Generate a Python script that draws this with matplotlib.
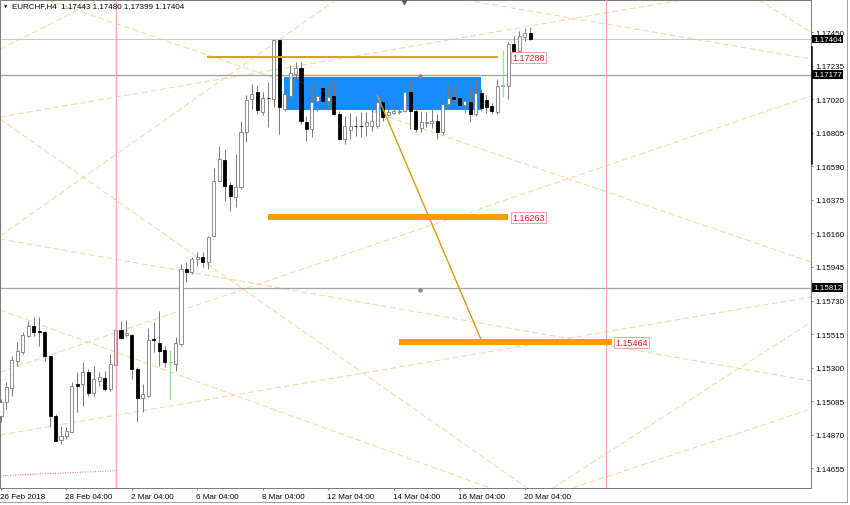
import matplotlib
matplotlib.use('Agg')
import matplotlib.pyplot as plt
import matplotlib.transforms as mtransforms
from matplotlib.patches import Rectangle
import numpy as np

plt.rcParams['font.family'] = ['Liberation Sans', 'DejaVu Sans']

# ---------------- data (EURCHF, H4) ----------------
symbol_title = "EURCHF,H4  1.17443 1.17480 1.17399 1.17404"

opens = [1.14988, 1.15078, 1.15168, 1.15345, 1.15403, 1.15505, 1.15565, 1.15537, 1.15527, 1.15377,
         1.14992, 1.14839, 1.14860, 1.14890, 1.15196, 1.15196, 1.15275, 1.15138, 1.15217, 1.15234,
         1.15164, 1.15318, 1.15544, 1.15510, 1.15510, 1.15292, 1.15106, 1.15120, 1.15482, 1.15458,
         1.15414, 1.15334, 1.15324, 1.15452, 1.15932, 1.15911, 1.15996, 1.16007, 1.15975, 1.16145,
         1.16498, 1.16630, 1.16470, 1.16391, 1.16455, 1.16808, 1.17023, 1.17066, 1.16938, 1.17027,
         1.17023, 1.17397, 1.16957, 1.17040, 1.17181, 1.17219, 1.16876, 1.16827, 1.17010, 1.17089,
         1.17010, 1.17037, 1.16925, 1.16762, 1.16825, 1.16850, 1.16848, 1.16846, 1.16846, 1.16850,
         1.17000, 1.16918, 1.16931, 1.16935, 1.16946, 1.17068, 1.16946, 1.16835, 1.16867, 1.16865,
         1.16882, 1.16808, 1.16986, 1.17036, 1.17025, 1.16984, 1.17000, 1.16925, 1.17059, 1.17016,
         1.16976, 1.16938, 1.17107, 1.17106, 1.17375, 1.17328, 1.17415, 1.17443]
highs = [1.15099, 1.15207, 1.15377, 1.15467, 1.15527, 1.15601, 1.15623, 1.15623, 1.15537, 1.15377,
         1.15003, 1.14928, 1.14918, 1.15207, 1.15271, 1.15335, 1.15292, 1.15313, 1.15271, 1.15281,
         1.15388, 1.15580, 1.15601, 1.15608, 1.15516, 1.15303, 1.15196, 1.15552, 1.15595, 1.15665,
         1.15441, 1.15356, 1.15495, 1.15964, 1.15975, 1.16007, 1.16039, 1.16039, 1.16145, 1.16579,
         1.16722, 1.16701, 1.16487, 1.16669, 1.16882, 1.17045, 1.17119, 1.17109, 1.17066, 1.17130,
         1.17401, 1.17401, 1.17072, 1.17236, 1.17260, 1.17256, 1.16914, 1.17123, 1.17123, 1.17138,
         1.17117, 1.17138, 1.16944, 1.16912, 1.16931, 1.16912, 1.16937, 1.16935, 1.16957, 1.17072,
         1.17064, 1.16957, 1.16968, 1.17000, 1.17138, 1.17128, 1.16976, 1.16944, 1.16935, 1.16963,
         1.16925, 1.17106, 1.17109, 1.17096, 1.17138, 1.17106, 1.17110, 1.17143, 1.17088, 1.17046,
         1.16995, 1.17149, 1.17136, 1.17384, 1.17424, 1.17457, 1.17474, 1.17480]
lows = [1.14950, 1.15035, 1.15120, 1.15313, 1.15388, 1.15495, 1.15505, 1.15441, 1.15345, 1.14918,
        1.14832, 1.14811, 1.14843, 1.14886, 1.15014, 1.15056, 1.15120, 1.15120, 1.15185, 1.15153,
        1.15153, 1.15313, 1.15484, 1.15495, 1.15228, 1.14950, 1.15014, 1.15110, 1.15399, 1.15313,
        1.15303, 1.15318, 1.15281, 1.15439, 1.15847, 1.15900, 1.15953, 1.15943, 1.15932, 1.16135,
        1.16487, 1.16370, 1.16305, 1.16327, 1.16445, 1.16744, 1.16959, 1.16927, 1.16917, 1.16842,
        1.16970, 1.16799, 1.16944, 1.17021, 1.17149, 1.16861, 1.16749, 1.16778, 1.16944, 1.16983,
        1.16951, 1.16918, 1.16756, 1.16733, 1.16765, 1.16784, 1.16778, 1.16786, 1.16818, 1.16835,
        1.16882, 1.16912, 1.16925, 1.16925, 1.16935, 1.16829, 1.16808, 1.16810, 1.16842, 1.16835,
        1.16765, 1.16790, 1.16963, 1.17000, 1.16968, 1.16931, 1.16872, 1.16909, 1.16941, 1.16931,
        1.16925, 1.16925, 1.17085, 1.17021, 1.17277, 1.17315, 1.17395, 1.17399]
closes = [1.15078, 1.15175, 1.15350, 1.15409, 1.15510, 1.15565, 1.15531, 1.15527, 1.15377, 1.14992,
          1.14832, 1.14864, 1.14896, 1.15181, 1.15185, 1.15275, 1.15138, 1.15228, 1.15239, 1.15164,
          1.15324, 1.15544, 1.15488, 1.15522, 1.15292, 1.15106, 1.15131, 1.15480, 1.15478, 1.15409,
          1.15339, 1.15337, 1.15458, 1.15932, 1.15911, 1.15996, 1.16011, 1.15975, 1.16139, 1.16498,
          1.16637, 1.16466, 1.16398, 1.16455, 1.16808, 1.17016, 1.17055, 1.16949, 1.17027, 1.17025,
          1.17397, 1.16970, 1.17053, 1.17187, 1.17219, 1.16880, 1.16827, 1.17004, 1.17042, 1.17010,
          1.17032, 1.16925, 1.16765, 1.16850, 1.16850, 1.16848, 1.16846, 1.16872, 1.16880, 1.17000,
          1.16904, 1.16935, 1.16946, 1.16946, 1.17068, 1.16946, 1.16829, 1.16872, 1.16874, 1.16883,
          1.16808, 1.16986, 1.17025, 1.17024, 1.16984, 1.17008, 1.16925, 1.17061, 1.16961, 1.16971,
          1.16941, 1.17107, 1.17110, 1.17373, 1.17315, 1.17423, 1.17443, 1.17404]

time_tick_bars = [0, 12, 24, 36, 48, 60, 72, 84, 96]
time_tick_labels = ["26 Feb 2018", "28 Feb 04:00", "2 Mar 04:00", "6 Mar 04:00", "8 Mar 04:00",
                    "12 Mar 04:00", "14 Mar 04:00", "16 Mar 04:00", "20 Mar 04:00"]
price_ticks = [1.17450, 1.17235, 1.17020, 1.16805, 1.16590, 1.16375, 1.16160, 1.15945,
               1.15730, 1.15515, 1.15300, 1.15085, 1.14870, 1.14655]

# horizontal price lines shown with black labels on the price scale
hline_prices = [1.17404, 1.17177, 1.15812]
hline_colors = ['#c8c8c8', '#a0a0a0', '#a6a6a6']

# dashed trend lines: (bar1, price1, bar2, price2)
fan_lines = [
    (-0.18, 1.17341, 18.15, 1.17661),
    (-0.18, 1.16906, 125.76, 1.17661),
    (40.51, 1.17271, 148.49, 1.15977),
    (-0.18, 1.16144, 61.60, 1.17661),
    (-0.18, 1.15669, 89.64, 1.14530),
    (-0.18, 1.15272, 148.49, 1.17040),
    (-0.18, 1.14869, 148.49, 1.15753),
    (-0.18, 1.16893, 96.43, 1.14530),
    (-0.18, 1.16124, 148.49, 1.15215),
    (84.14, 1.17661, 148.49, 1.17277),
    (138.59, 1.17661, 148.49, 1.17450),
    (101.19, 1.14530, 148.49, 1.15592),
    (104.86, 1.14530, 148.49, 1.15035),
]

# level objects
gold_level = (37.8, 91.1, 1.17288)          # bar start, bar end, price
gold_diag = (69.0, 1.17042, 88.2, 1.15464)  # bar1, price1, bar2, price2
thick_levels = [(48.9, 92.9, 1.16263), (73.0, 112.0, 1.15464)]
price_tags = [(93.7, 1.17288, "1.17288"), (93.7, 1.16263, "1.16263"), (112.6, 1.15464, "1.15464")]
zone = (51.9, 88.0, 1.16951, 1.17162)       # bar start, bar end, price low, price high
vlines_red = [21, 111]
red_dotted = (-0.18, 1.14608, 21.0, 1.14640)
teal_dotted = (53.0, 1.17155, 69.0, 1.16938)
green_marks = [(31, 1.15099, 1.15409), (92, 1.17042, 1.17330)]
scale_bar = (1.16605, 1.17352)

# ---------------- figure ----------------
W, H = 850, 506
fig = plt.figure(figsize=(W / 100, H / 100), dpi=100)
ax = fig.add_axes([0 / W, 17 / H, 811 / W, 488 / H])
ax.set_xlim(-0.1833, 148.49)
ax.set_ylim(1.145293, 1.176550)

PX = 0.72  # one pixel in points

# dashed fan lines
for (b1, p1, b2, p2) in fan_lines:
    ax.axline((b1, p1), (b2, p2), color='#f5d49c', lw=PX, ls=(0, (6, 3)), zorder=1)

# horizontal lines
for p, c in zip(hline_prices, hline_colors):
    ax.axhline(p, color=c, lw=1.3 * PX if c != '#c8c8c8' else PX, zorder=1.5)

# zone rectangle
ax.add_patch(Rectangle((zone[0], zone[2]), zone[1] - zone[0], zone[3] - zone[2],
                       facecolor='#168cff', edgecolor='none', zorder=2))

# red vertical lines and dotted red
for b in vlines_red:
    ax.axvline(b, color='#f5a3a3', lw=1.2 * PX, zorder=5)
ax.plot([red_dotted[0], red_dotted[2]], [red_dotted[1], red_dotted[3]],
        color='#f06060', lw=PX, ls=(0, (1, 1.5)), zorder=2)

# candles
for i, (o, h, l, c) in enumerate(zip(opens, highs, lows, closes)):
    up = c >= o
    ax.plot([i, i], [l, h], color='#7a7a7a', lw=PX, zorder=3, solid_capstyle='butt')
    bottom = min(o, c)
    height = max(abs(c - o), 0.000025)
    ax.add_patch(Rectangle((i - 0.28, bottom), 0.56, height,
                           facecolor='white' if up else 'black',
                           edgecolor='#7a7a7a' if up else 'black', lw=0.6, zorder=4))

# green marks
for b, lo, hi in green_marks:
    ax.plot([b, b], [lo, hi], color='#8fe88f', lw=1.3 * PX, zorder=4.5)

# teal dotted line inside the zone
ax.plot([teal_dotted[0], teal_dotted[2]], [teal_dotted[1], teal_dotted[3]],
        color='#3a9a6a', lw=0.8 * PX, ls=(0, (1, 2)), zorder=4.6)

# gold level + diagonal
ax.plot([gold_level[0], gold_level[1]], [gold_level[2], gold_level[2]],
        color='#d9a21b', lw=2 * PX, zorder=5, solid_capstyle='butt')
ax.plot([gold_diag[0], gold_diag[2]], [gold_diag[1], gold_diag[3]],
        color='#d49a10', lw=1.4 * PX, zorder=5)

# thick orange levels
for b1, b2, p in thick_levels:
    ax.plot([b1, b2], [p, p], color='#ff9d00', lw=6 * PX, zorder=5, solid_capstyle='butt')

# red price tags
for b, p, s in price_tags:
    ax.text(b, p, s, fontsize=6.4, color='#e8141e', ha='left', va='center', zorder=6,
            bbox=dict(boxstyle='square,pad=0.12', fc='white', ec='#f4a0a0', lw=0.7))

# small object markers
ax.plot([76.8], [1.17168], marker=(6, 2, 0), ms=3, color='#8a8a8a', zorder=6)
ax.plot([76.8], [1.15798], marker=(6, 2, 0), ms=3, color='#8a8a8a', zorder=6)
ax.plot([73.9], [1.17649], marker='v', ms=4.5, color='#4e5d6c', zorder=7, clip_on=False)

# spines
for s in ax.spines.values():
    s.set_color('#7c7c7c')
    s.set_linewidth(PX)

# price axis
ax.yaxis.tick_right()
ax.set_yticks(price_ticks)
ax.set_yticklabels([f"{v:.5f}" for v in price_ticks])
ax.tick_params(axis='y', which='both', direction='out', length=2 * PX, width=PX,
               color='#7c7c7c', pad=2 * PX, labelsize=5.8, labelcolor='black')

# time axis
ax.set_xticks(time_tick_bars)
ax.set_xticklabels(time_tick_labels, ha='left')
ax.tick_params(axis='x', which='both', direction='out', length=2 * PX, width=PX,
               color='#7c7c7c', pad=3.5 * PX, labelsize=5.8, labelcolor='black')
for lab in ax.get_xticklabels():
    lab.set_transform(lab.get_transform() + mtransforms.ScaledTranslation(-1 / 100, 0, fig.dpi_scale_trans))

# black price labels on the scale
ytrans = ax.get_yaxis_transform()
for p in hline_prices:
    ax.text(1.0 + 2.0 / 811, p, f"{p:.5f}", transform=ytrans, fontsize=5.8, color='white',
            ha='left', va='center', zorder=8, clip_on=False,
            bbox=dict(boxstyle='square,pad=0.1', fc='black', ec='none'))

# black bar on the price scale
ax.plot([1.0 + 0.6 / 811, 1.0 + 0.6 / 811], [scale_bar[0], scale_bar[1]], transform=ytrans,
        color='black', lw=1.5 * PX, clip_on=False, zorder=8)

# title
fig.text(2.5 / W, 1 - 6.5 / H, '\u25bc', fontsize=3.8, color='black', va='center', ha='left')
fig.text(12 / W, 1 - 6.5 / H, symbol_title, fontsize=5.8, color='black', va='center', ha='left')

# window border
fig.add_artist(plt.Line2D([847 / W, 847 / W], [3 / H, 1], color='#a0a0a0', lw=PX))
fig.add_artist(plt.Line2D([0, 847 / W], [3 / H, 3 / H], color='#a0a0a0', lw=PX))

fig.savefig('out.png', dpi=100, facecolor='white')
